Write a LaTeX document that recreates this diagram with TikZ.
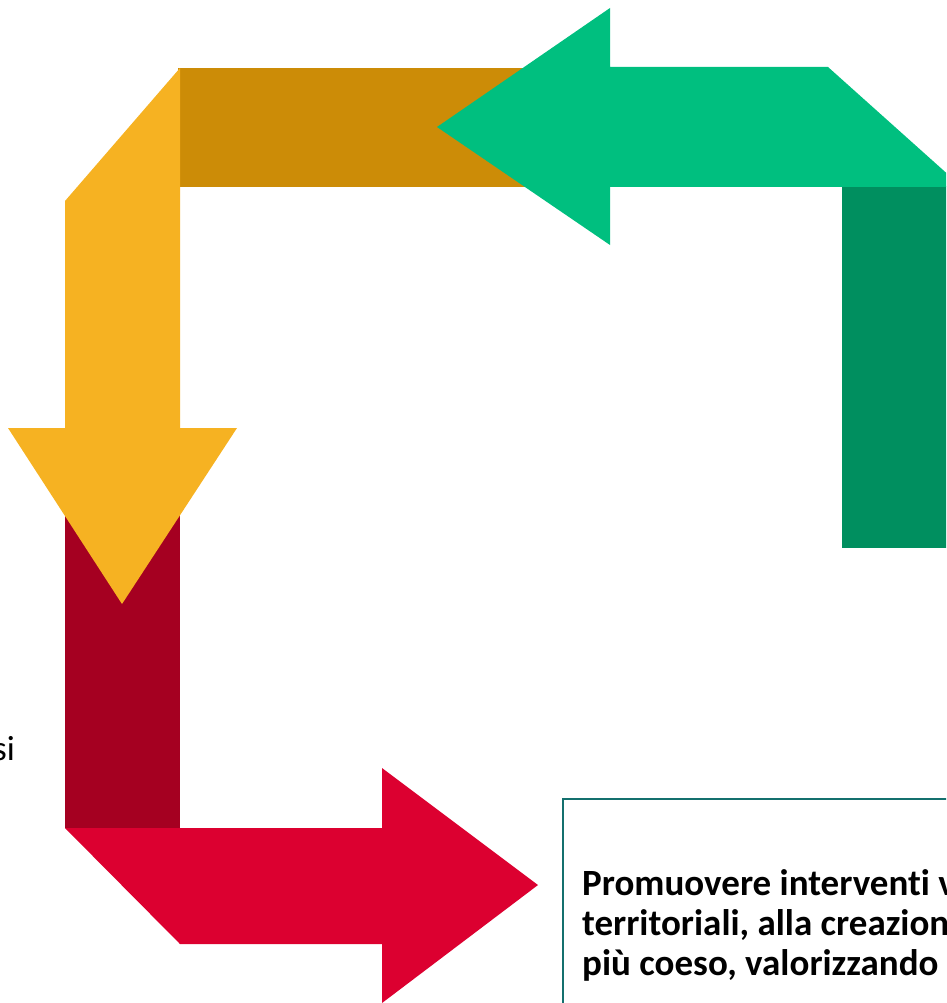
\documentclass[tikz,border=0pt]{standalone}
\usepackage{fontspec}
\setmainfont{Carlito}[Ligatures=NoCommon]
\usetikzlibrary{positioning}
\definecolor{gold}{HTML}{CC8C07}
\definecolor{amber}{HTML}{F6B222}
\definecolor{wine}{HTML}{A50021}
\definecolor{crimson}{HTML}{DC0030}
\definecolor{mint}{HTML}{00BF7F}
\definecolor{pine}{HTML}{008F5F}
\definecolor{boxteal}{HTML}{14706E}

\begin{document}
\begin{tikzpicture}[x=1pt, y=-1pt, main/.style = {inner sep=0pt, align=left, font=\fontsize{37}{40}\selectfont\bfseries},
    side/.style = {inner sep=0pt, font=\fontsize{35}{40}\selectfont}]
    \useasboundingbox (0,0) rectangle (946,1003);
    \clip (0,0) rectangle (946,1003);

    % the straight pieces
    \fill[gold] (178,68) rectangle (540,187);
    \fill[wine] (65,480) rectangle (180,828);
    \fill[pine] (842,186) rectangle (960,548);

    % the four arrows
    \fill[amber] (180,68) -- (65,201) -- (65,428) -- (8,428) -- (122,604) -- (237,428) -- (180,428) -- cycle;
    \fill[crimson] (65,828) -- (382,828) -- (382,768) -- (538,885) -- (382,1003) -- (382,944) -- (180,944) -- cycle;
    \fill[mint] (437,127) -- (610,8) -- (610,67) -- (828,67) -- (962,187) -- (610,187) -- (610,245) -- cycle;

    % the box
    \draw[boxteal, line width=2pt] (563,799) rectangle (980,1020);
    \node[main, anchor=base west] (goal) at (582,975) {Promuovere interventi v\\territoriali, alla creazion\\più coeso, valorizzando};
    \node[side, anchor=base east] (tail) at (15,760) {si};
\end{tikzpicture}
\end{document}
